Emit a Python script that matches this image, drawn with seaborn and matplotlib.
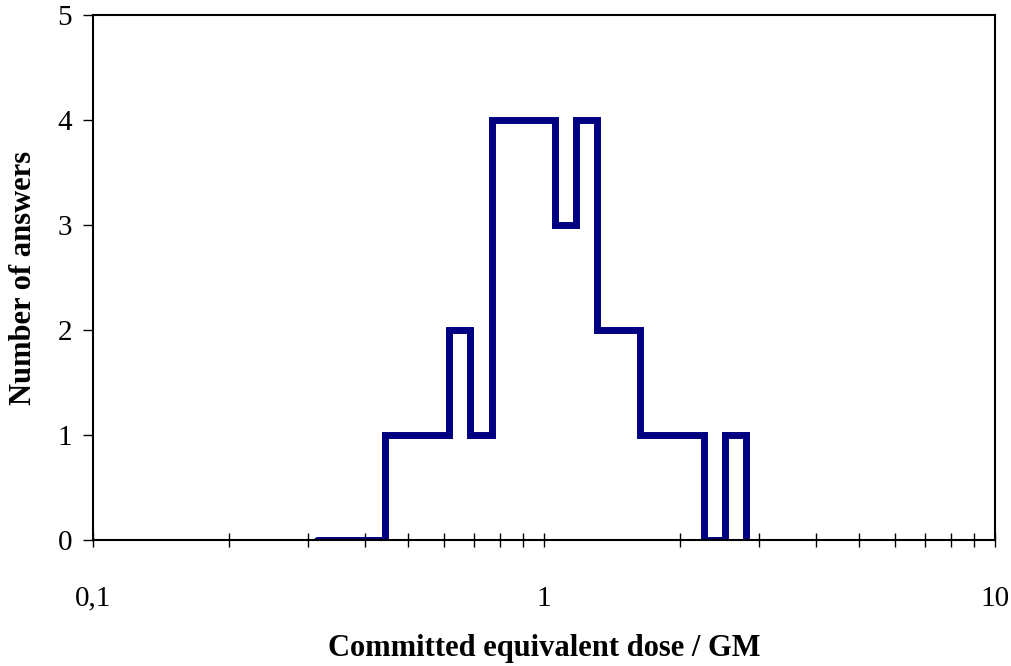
import matplotlib
matplotlib.use("Agg")
import matplotlib.pyplot as plt
import seaborn as sns
import pandas as pd
from matplotlib.ticker import FixedLocator, FixedFormatter, LogLocator, NullFormatter

# Data: step edges (dose / GM) and number of answers starting at each edge
dose_edges = [0.314, 0.444, 0.617, 0.684, 0.7655, 1.059, 1.178, 1.311, 1.635, 2.260, 2.523, 2.805]
answers = [0, 1, 2, 1, 4, 3, 4, 2, 1, 0, 1, 0]
x_ticks = [0.1, 1, 10]
x_tick_labels = ["0,1", "1", "10"]
y_ticks = [0, 1, 2, 3, 4, 5]

sns.set_theme(style="white")
plt.rcParams['font.family'] = ['Liberation Serif', 'DejaVu Serif']
plt.rcParams['text.color'] = 'black'
plt.rcParams['axes.labelcolor'] = 'black'
plt.rcParams['xtick.color'] = 'black'
plt.rcParams['ytick.color'] = 'black'

fig = plt.figure(figsize=(10.12, 6.66), dpi=100)
ax = fig.add_axes([93/1012, 1 - 540/666, (995-93)/1012, (540-15)/666])

df = pd.DataFrame({"dose": dose_edges, "n": answers})
sns.lineplot(data=df, x="dose", y="n", ax=ax, color="#000080", linewidth=5,
             drawstyle="steps-post", sort=False, solid_joinstyle="miter")

ax.set_xscale("log")
ax.set_xlim(0.1, 10)
ax.set_ylim(0, 5)
ax.xaxis.set_major_locator(FixedLocator(x_ticks))
ax.xaxis.set_major_formatter(FixedFormatter(x_tick_labels))
ax.xaxis.set_minor_locator(LogLocator(base=10, subs=range(2, 10)))
ax.xaxis.set_minor_formatter(NullFormatter())
ax.set_yticks(y_ticks)

for s in ax.spines.values():
    s.set_color("black")
    s.set_linewidth(1.5)

ax.tick_params(axis="x", which="both", direction="inout", length=10, width=1,
               color="black", labelcolor="black", bottom=True, pad=28, labelsize=21)
ax.tick_params(axis="y", which="major", direction="out", length=7, width=1,
               color="black", labelcolor="black", left=True, pad=8, labelsize=21)

ax.set_xlabel("Committed equivalent dose / GM", fontsize=22, fontweight="bold",
              labelpad=16, color="black")
ax.set_ylabel("Number of answers", fontsize=22, fontweight="bold", labelpad=14,
              color="black")
ax.grid(False)

fig.savefig("out.png", dpi=100, facecolor="white")
